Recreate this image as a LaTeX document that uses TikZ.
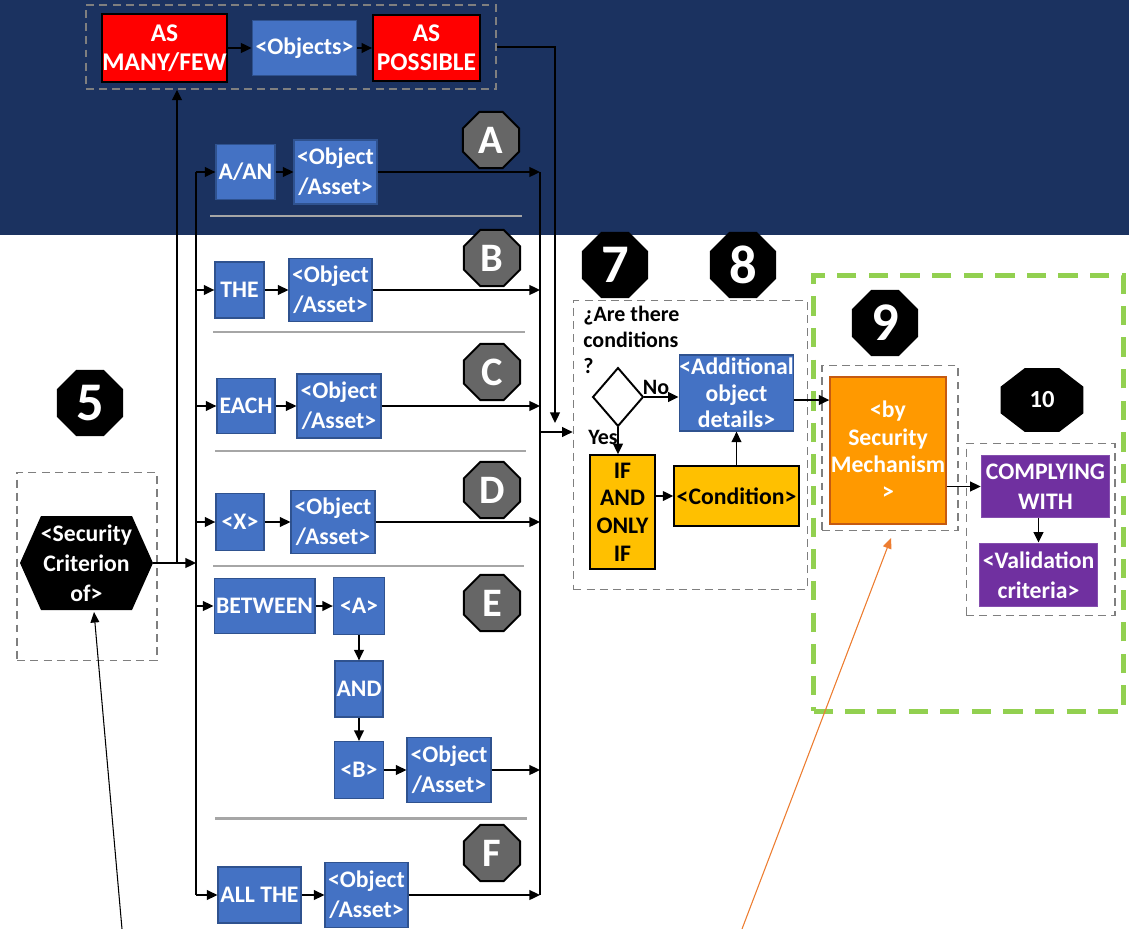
\documentclass[tikz,border=0pt]{standalone}
\usepackage{fontspec}
\setmainfont{Carlito}
\usetikzlibrary{arrows.meta,shapes.geometric}

\definecolor{navy}{HTML}{1B3260}
\definecolor{boxblue}{HTML}{4472C4}
\definecolor{boxblueline}{HTML}{2F528F}
\definecolor{alertred}{HTML}{FF0000}
\definecolor{amber}{HTML}{FFC000}
\definecolor{mechorange}{HTML}{FF9900}
\definecolor{mechline}{HTML}{C55A11}
\definecolor{pointerorange}{HTML}{ED7D31}
\definecolor{plum}{HTML}{7030A0}
\definecolor{limegreen}{HTML}{92D050}
\definecolor{badgegray}{HTML}{666666}
\definecolor{rulegray}{HTML}{A6A6A6}
\definecolor{dashgray}{HTML}{7F7F7F}

\tikzset{
  px/.style 2 args={minimum width={#1*0.5669pt}, minimum height={#2*0.5669pt}},
  boxtext/.style={font=\bfseries\fontsize{13.5}{17}\selectfont, align=center, inner sep=0pt},
  bluebox/.style={boxtext, rectangle, fill=boxblue, draw=boxblueline, line width=0.8pt, text=white},
  redbox/.style={boxtext, rectangle, fill=alertred, draw=black, line width=1.2pt, text=white,
    font=\bfseries\fontsize{14.5}{16.5}\selectfont},
  amberbox/.style={boxtext, rectangle, fill=amber, draw=black, line width=1.1pt, text=black},
  mechbox/.style={boxtext, rectangle, fill=mechorange, draw=mechline, line width=1pt, text=white},
  plumbox/.style={boxtext, rectangle, fill=plum, draw=plum!85!white, line width=0.6pt, text=white},
  dashbox/.style={rectangle, draw=dashgray, line width=0.9pt, dash pattern=on 4.5pt off 3pt, inner sep=0pt},
  greenbox/.style={rectangle, draw=limegreen, line width=2.8pt, dash pattern=on 11pt off 7pt, inner sep=0pt},
  badge/.style={regular polygon, regular polygon sides=8, inner sep=0pt, draw=black, line width=1.1pt,
    text=white, font=\bfseries\fontsize{23}{26}\selectfont},
  graybadge/.style={badge, fill=badgegray, minimum size={61*0.5669pt}},
  stepbadge/.style={badge, fill=black, minimum size={70*0.5669pt}, font=\bfseries\fontsize{31}{34}\selectfont},
  line/.style={draw=black, line width=1.1pt},
  arr/.style={line, -{Triangle[length=6pt,width=5.5pt]}},
  thinarr/.style={draw=black, line width=0.6pt, -{Triangle[length=6pt,width=5pt]}},
  rule/.style={draw=rulegray, line width=1.7pt},
  smalllabel/.style={font=\bfseries\fontsize{12.5}{14.8}\selectfont, inner sep=0pt, text=black}
}

\begin{document}
\begin{tikzpicture}[x=0.02cm,y=-0.02cm]
\useasboundingbox (0,0) rectangle (1129,929);
\fill[white] (0,0) rectangle (1129,929);
\fill[navy] (0,0) rectangle (1129,235);

% quantifier group at the top
\node[dashbox, px={412}{84}] (topbox) at (291,47) {};
\node[redbox, px={123}{68}] (manyfew) at (164.5,48) {AS\\MANY/FEW};
\node[bluebox, px={105}{55}] (objects) at (304.5,48) {<Objects>};
\node[redbox, px={107}{66}] (possible) at (426.5,48) {AS\\POSSIBLE};
\draw[arr] (manyfew) -- (objects);
\draw[arr] (objects) -- (possible);

% separators between the alternatives
\draw[rule] (210,216) -- (522,216);
\draw[rule] (213,332) -- (525,332);
\draw[rule] (215,451) -- (526,451);
\draw[rule] (213,566) -- (524,566);
\draw[rule] (215,818) -- (527,818);

% alternative A
\node[bluebox, px={59}{55}] (aan) at (245.5,172) {A/AN};
\node[bluebox, px={83}{64}] (objA) at (335.5,172) {<Object\\/Asset>};
\node[graybadge] (bA) at (491,140) {A};
% alternative B
\node[bluebox, px={49}{56}] (theB) at (239.5,290) {THE};
\node[bluebox, px={83}{63}] (objB) at (330.5,290) {<Object\\/Asset>};
\node[graybadge] (bB) at (492,258) {B};
% alternative C
\node[bluebox, px={58}{55}] (eachC) at (246,406) {EACH};
\node[bluebox, px={84}{64}] (objC) at (339,406) {<Object\\/Asset>};
\node[graybadge] (bC) at (492,372) {C};
% alternative D
\node[bluebox, px={48}{57}] (xD) at (240,522) {<X>};
\node[bluebox, px={84}{63}] (objD) at (333,522) {<Object\\/Asset>};
\node[graybadge] (bD) at (492,490) {D};
% alternative E
\node[bluebox, px={101}{55}] (between) at (264.5,606) {BETWEEN};
\node[bluebox, px={51}{57}] (aE) at (359,606) {<A>};
\node[bluebox, px={48}{56}] (andE) at (359,689) {AND};
\node[bluebox, px={49}{57}] (bE) at (359,770) {<B>};
\node[bluebox, px={84}{65}] (objE) at (449,770) {<Object\\/Asset>};
\node[graybadge] (bE2) at (492,603) {E};
% alternative F
\node[bluebox, px={83}{56}] (allthe) at (259.5,895) {ALL THE};
\node[bluebox, px={83}{65}] (objF) at (366.5,895) {<Object\\/Asset>};
\node[graybadge] (bF) at (492,853) {F};

\draw[arr] (aan) -- (objA);
\draw[arr] (theB) -- (objB);
\draw[arr] (eachC) -- (objC);
\draw[arr] (xD) -- (objD);
\draw[arr] (between) -- (aE);
\draw[arr] (aE) -- (andE);
\draw[arr] (andE) -- (bE);
\draw[arr] (bE) -- (objE);
\draw[arr] (allthe) -- (objF);

% security criterion
\node[stepbadge] (b5) at (90,403) {5};
\node[dashbox, px={140}{189}] (critbox) at (87,566.5) {};
\fill[black] (20,563) -- (41,516) -- (132,516) -- (153,563) -- (132,610) -- (41,610) -- cycle;
\node[boxtext, text=white, px={133}{94}] (crit) at (86.5,563) {<Security\\Criterion\\of>};

% distribution bus on the left
\coordinate (busT) at (196,172);
\coordinate (busB) at (196,895);
\draw[line] (busT) -- (busB);
\draw[arr] (crit.east) -- (crit.east -| busT);
\foreach \n in {aan,theB,eachC,xD,between,allthe}
  \draw[arr] (\n.west -| busT) -- (\n.west);
\coordinate (upFoot) at (177,563);
\draw[arr] (upFoot) -- (upFoot |- topbox.south);

% merge bus on the right
\coordinate (mrgT) at (540,172);
\coordinate (mrgB) at (540,895);
\draw[line] (mrgT) -- (mrgB);
\foreach \n in {objA,objB,objC,objD,objE,objF}
  \draw[arr] (\n.east) -- (\n.east -| mrgT);
\coordinate (downTip) at (555,423);
\draw[arr] (topbox.east) -| (downTip);

% conditions
\node[stepbadge] (b7) at (615,265) {7};
\node[stepbadge] (b8) at (743,265) {8};
\node[dashbox, px={235}{290}] (condbox) at (690.5,445) {};
\coordinate (mrgOut) at (540,432);
\draw[arr] (mrgOut) -- (mrgOut -| condbox.west);
\node[smalllabel, anchor=north west, align=left] (question) at (583,306) {¿Are there\\conditions\\?};
\node[diamond, draw=black, line width=1.1pt, inner sep=0pt, px={51}{59}] (dia) at (618,397) {};
\node[bluebox, px={112}{76}, font=\bfseries\fontsize{13.5}{15}\selectfont] (addl) at (736.5,393) {<Additional\\object\\details>};
\node[amberbox, px={65}{114}, font=\bfseries\fontsize{13.5}{15.8}\selectfont] (iff) at (622.5,512) {IF\\AND\\ONLY\\IF};
\node[amberbox, px={125}{61}] (cond) at (736.5,496) {<Condition>};
\node[smalllabel] (nolbl) at (656,387) {No};
\node[smalllabel] (yeslbl) at (603,437) {Yes};
\draw[arr] (dia.east) -- (dia.east -| addl.west);
\draw[arr] (dia.south) -- (dia.south |- iff.north);
\draw[arr] (iff.east |- cond.west) -- (cond.west);
\draw[arr] (cond) -- (addl);

% security mechanism and validation
\node[greenbox, px={311}{437}] (greenzone) at (968.5,493.5) {};
\node[stepbadge] (b9) at (885,323) {9};
\node[dashbox, px={136}{166}] (mechgroup) at (890,448) {};
\node[mechbox, px={116}{147}, font=\bfseries\fontsize{13.5}{15.6}\selectfont] (mech) at (888,450.5) {<by\\Security\\Mechanism\\>};
\draw[arr] ([yshift=-4pt]addl.east) -- ([yshift=-4pt]addl.east -| mech.west);

\fill[black] (1042,400) +(22.5:44.9 and 34.6)
  \foreach \a in {67.5,112.5,...,337.5} { -- +(\a:44.9 and 34.6) } -- cycle;
\node[text=white, font=\bfseries\fontsize{14}{16}\selectfont, inner sep=0pt] (b10) at (1042,400) {10};
\node[dashbox, px={149}{173}] (valgroup) at (1040.5,529.5) {};
\node[plumbox, px={129}{63}] (comply) at (1045.5,486.5) {COMPLYING\\WITH};
\node[plumbox, px={119}{64}] (valid) at (1038.5,575) {<Validation\\criteria>};
\draw[arr] (mech.east |- comply.west) -- (comply.west);
\draw[arr] (comply.south -| valid.north) -- (valid.north);

% pointers coming in from below
\coordinate (critSrc) at (122,929);
\coordinate (critTip) at (94,612);
\draw[thinarr] (critSrc) -- (critTip);
\coordinate (mechSrc) at (742,929);
\coordinate (mechTip) at (891,538);
\draw[thinarr, draw=pointerorange, fill=pointerorange] (mechSrc) -- (mechTip);
\end{tikzpicture}
\end{document}
